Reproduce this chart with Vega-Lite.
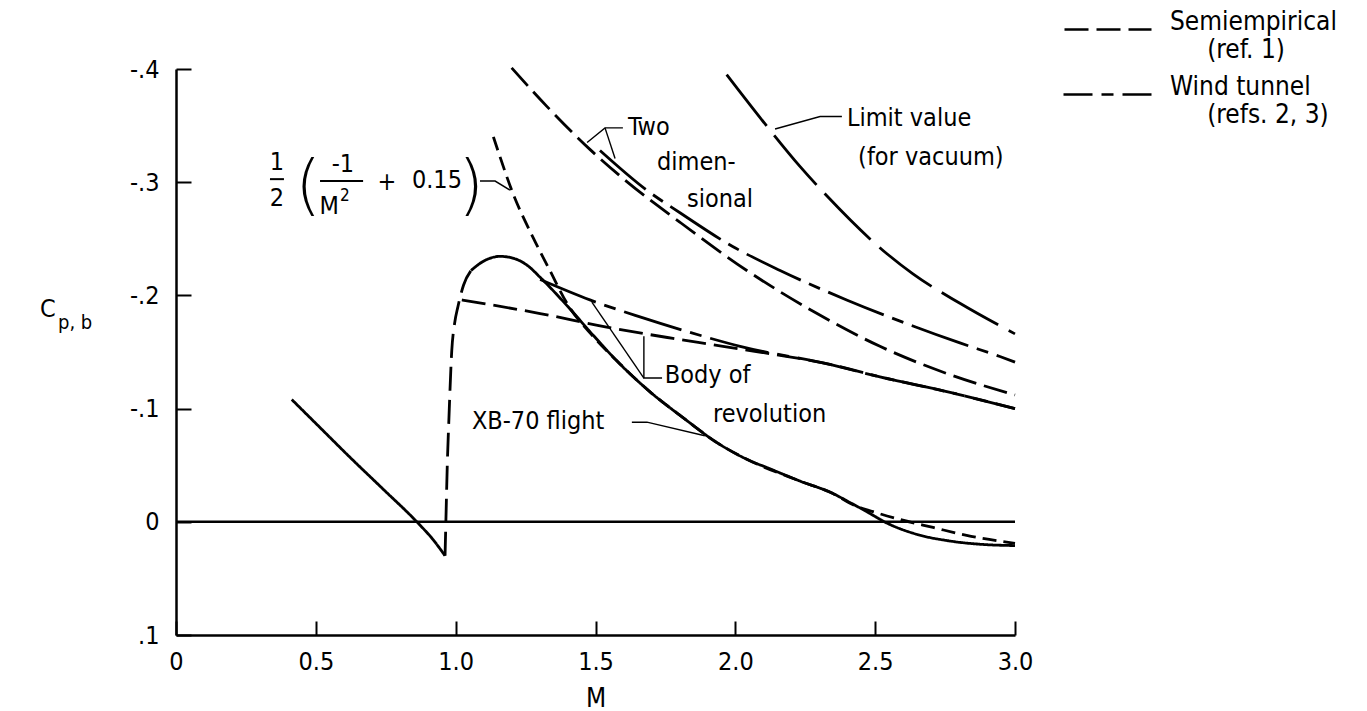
{
  "$schema": "https://vega.github.io/schema/vega-lite/v6.json",
  "width": 839,
  "height": 566,
  "autosize": {"type": "none"},
  "padding": {"left": 176, "top": 69, "right": 352, "bottom": 76},
  "background": "white",
  "config": {
    "view": {"stroke": null},
    "font": "DejaVu Sans Condensed, Liberation Sans Narrow, sans-serif",
    "text": {"font": "DejaVu Sans Condensed, Liberation Sans Narrow, sans-serif", "color": "black"}
  },
  "datasets": {
    "curves": [
      {"s": "flight1", "st": "flight", "M": 0.414, "Cp": -0.108},
      {"s": "flight1", "st": "flight", "M": 0.52, "Cp": -0.082},
      {"s": "flight1", "st": "flight", "M": 0.622, "Cp": -0.057},
      {"s": "flight1", "st": "flight", "M": 0.74, "Cp": -0.029},
      {"s": "flight1", "st": "flight", "M": 0.861, "Cp": 0.0},
      {"s": "flight1", "st": "flight", "M": 0.92, "Cp": 0.016},
      {"s": "flight1", "st": "flight", "M": 0.962, "Cp": 0.03},
      {"s": "fair", "st": "fairing", "M": 0.962, "Cp": 0.03},
      {"s": "fair", "st": "fairing", "M": 0.965, "Cp": 0.0},
      {"s": "fair", "st": "fairing", "M": 0.97, "Cp": -0.05},
      {"s": "fair", "st": "fairing", "M": 0.976, "Cp": -0.092},
      {"s": "fair", "st": "fairing", "M": 0.986, "Cp": -0.151},
      {"s": "fair", "st": "fairing", "M": 0.996, "Cp": -0.175},
      {"s": "fair", "st": "fairing", "M": 1.008, "Cp": -0.19},
      {"s": "fair", "st": "fairing", "M": 1.028, "Cp": -0.209},
      {"s": "fair", "st": "fairing", "M": 1.055, "Cp": -0.222},
      {"s": "flight2", "st": "flight", "M": 1.055, "Cp": -0.222},
      {"s": "flight2", "st": "flight", "M": 1.098, "Cp": -0.23},
      {"s": "flight2", "st": "flight", "M": 1.159, "Cp": -0.2345},
      {"s": "flight2", "st": "flight", "M": 1.216, "Cp": -0.232},
      {"s": "flight2", "st": "flight", "M": 1.259, "Cp": -0.226},
      {"s": "flight2", "st": "flight", "M": 1.302, "Cp": -0.216},
      {"s": "flight2", "st": "flight", "M": 1.398, "Cp": -0.191},
      {"s": "flight2", "st": "flight", "M": 1.491, "Cp": -0.165},
      {"s": "flight2", "st": "flight", "M": 1.577, "Cp": -0.142},
      {"s": "flight2", "st": "flight", "M": 1.694, "Cp": -0.115},
      {"s": "flight2", "st": "flight", "M": 1.813, "Cp": -0.092},
      {"s": "flight2", "st": "flight", "M": 1.934, "Cp": -0.07},
      {"s": "flight2", "st": "flight", "M": 2.052, "Cp": -0.054},
      {"s": "flight2", "st": "flight", "M": 2.112, "Cp": -0.048},
      {"s": "flight2", "st": "flight", "M": 2.231, "Cp": -0.036},
      {"s": "flight2", "st": "flight", "M": 2.349, "Cp": -0.025},
      {"s": "flight2", "st": "flight", "M": 2.41, "Cp": -0.017},
      {"s": "flight2", "st": "flight", "M": 2.47, "Cp": -0.009},
      {"s": "flight2", "st": "flight", "M": 2.541, "Cp": 0.001},
      {"s": "flight2", "st": "flight", "M": 2.648, "Cp": 0.011},
      {"s": "flight2", "st": "flight", "M": 2.768, "Cp": 0.017},
      {"s": "flight2", "st": "flight", "M": 2.885, "Cp": 0.02},
      {"s": "flight2", "st": "flight", "M": 3.0, "Cp": 0.021},
      {"s": "formula", "st": "formula", "M": 1.135, "Cp": -0.34},
      {"s": "formula", "st": "formula", "M": 1.151, "Cp": -0.328},
      {"s": "formula", "st": "formula", "M": 1.205, "Cp": -0.29},
      {"s": "formula", "st": "formula", "M": 1.277, "Cp": -0.251},
      {"s": "formula", "st": "formula", "M": 1.337, "Cp": -0.222},
      {"s": "formula", "st": "formula", "M": 1.398, "Cp": -0.193},
      {"s": "formula", "st": "formula", "M": 1.491, "Cp": -0.164},
      {"s": "formula", "st": "formula", "M": 1.577, "Cp": -0.142},
      {"s": "formula", "st": "formula", "M": 1.694, "Cp": -0.115},
      {"s": "formula", "st": "formula", "M": 1.813, "Cp": -0.092},
      {"s": "formula", "st": "formula", "M": 1.934, "Cp": -0.07},
      {"s": "formula", "st": "formula", "M": 2.052, "Cp": -0.054},
      {"s": "formula", "st": "formula", "M": 2.231, "Cp": -0.036},
      {"s": "formula", "st": "formula", "M": 2.349, "Cp": -0.025},
      {"s": "formula", "st": "formula", "M": 2.421, "Cp": -0.015},
      {"s": "formula", "st": "formula", "M": 2.492, "Cp": -0.009},
      {"s": "formula", "st": "formula", "M": 2.589, "Cp": -0.002},
      {"s": "formula", "st": "formula", "M": 2.707, "Cp": 0.005},
      {"s": "formula", "st": "formula", "M": 2.827, "Cp": 0.012},
      {"s": "formula", "st": "formula", "M": 3.0, "Cp": 0.019},
      {"s": "semi2d", "st": "semi", "M": 1.2, "Cp": -0.401},
      {"s": "semi2d", "st": "semi", "M": 1.326, "Cp": -0.367},
      {"s": "semi2d", "st": "semi", "M": 1.48, "Cp": -0.329},
      {"s": "semi2d", "st": "semi", "M": 1.6, "Cp": -0.303},
      {"s": "semi2d", "st": "semi", "M": 1.8, "Cp": -0.265},
      {"s": "semi2d", "st": "semi", "M": 2.041, "Cp": -0.222},
      {"s": "semi2d", "st": "semi", "M": 2.278, "Cp": -0.186},
      {"s": "semi2d", "st": "semi", "M": 2.517, "Cp": -0.155},
      {"s": "semi2d", "st": "semi", "M": 2.756, "Cp": -0.131},
      {"s": "semi2d", "st": "semi", "M": 3.0, "Cp": -0.112},
      {"s": "wt2d", "st": "wt", "M": 1.516, "Cp": -0.328},
      {"s": "wt2d", "st": "wt", "M": 1.683, "Cp": -0.293},
      {"s": "wt2d", "st": "wt", "M": 1.802, "Cp": -0.273},
      {"s": "wt2d", "st": "wt", "M": 1.992, "Cp": -0.243},
      {"s": "wt2d", "st": "wt", "M": 2.16, "Cp": -0.222},
      {"s": "wt2d", "st": "wt", "M": 2.398, "Cp": -0.196},
      {"s": "wt2d", "st": "wt", "M": 2.635, "Cp": -0.173},
      {"s": "wt2d", "st": "wt", "M": 2.803, "Cp": -0.158},
      {"s": "wt2d", "st": "wt", "M": 2.946, "Cp": -0.146},
      {"s": "wt2d", "st": "wt", "M": 3.0, "Cp": -0.141},
      {"s": "limit", "st": "limit", "M": 1.969, "Cp": -0.395},
      {"s": "limit", "st": "limit", "M": 2.124, "Cp": -0.346},
      {"s": "limit", "st": "limit", "M": 2.231, "Cp": -0.314},
      {"s": "limit", "st": "limit", "M": 2.327, "Cp": -0.288},
      {"s": "limit", "st": "limit", "M": 2.541, "Cp": -0.237},
      {"s": "limit", "st": "limit", "M": 2.635, "Cp": -0.219},
      {"s": "limit", "st": "limit", "M": 2.803, "Cp": -0.193},
      {"s": "limit", "st": "limit", "M": 3.0, "Cp": -0.166},
      {"s": "semiBoR", "st": "semi", "M": 1.022, "Cp": -0.196},
      {"s": "semiBoR", "st": "semi", "M": 1.302, "Cp": -0.184},
      {"s": "semiBoR", "st": "semi", "M": 1.54, "Cp": -0.172},
      {"s": "semiBoR", "st": "semi", "M": 1.777, "Cp": -0.162},
      {"s": "semiBoR", "st": "semi", "M": 1.956, "Cp": -0.155},
      {"s": "semiBoR", "st": "semi", "M": 2.374, "Cp": -0.137},
      {"s": "semiBoR", "st": "semi", "M": 2.517, "Cp": -0.128},
      {"s": "semiBoR", "st": "semi", "M": 2.756, "Cp": -0.115},
      {"s": "semiBoR", "st": "semi", "M": 3.0, "Cp": -0.1},
      {"s": "wtBoR", "st": "wt", "M": 1.302, "Cp": -0.214},
      {"s": "wtBoR", "st": "wt", "M": 1.48, "Cp": -0.196},
      {"s": "wtBoR", "st": "wt", "M": 1.659, "Cp": -0.181},
      {"s": "wtBoR", "st": "wt", "M": 1.898, "Cp": -0.163},
      {"s": "wtBoR", "st": "wt", "M": 2.017, "Cp": -0.155},
      {"s": "wtBoR", "st": "wt", "M": 2.338, "Cp": -0.139},
      {"s": "wtBoR", "st": "wt", "M": 2.517, "Cp": -0.128},
      {"s": "wtBoR", "st": "wt", "M": 2.756, "Cp": -0.115},
      {"s": "wtBoR", "st": "wt", "M": 3.0, "Cp": -0.1}
    ],
    "leaders": [
      {"g": "two_a", "i": 0, "M": 1.598, "Cp": -0.348},
      {"g": "two_a", "i": 1, "M": 1.534, "Cp": -0.348},
      {"g": "two_a", "i": 2, "M": 1.47, "Cp": -0.335},
      {"g": "two_b", "i": 0, "M": 1.534, "Cp": -0.348},
      {"g": "two_b", "i": 1, "M": 1.57, "Cp": -0.321},
      {"g": "limit", "i": 0, "M": 2.381, "Cp": -0.358},
      {"g": "limit", "i": 1, "M": 2.303, "Cp": -0.358},
      {"g": "limit", "i": 2, "M": 2.142, "Cp": -0.347},
      {"g": "body_a", "i": 0, "M": 1.738, "Cp": -0.127},
      {"g": "body_a", "i": 1, "M": 1.673, "Cp": -0.127},
      {"g": "body_a", "i": 2, "M": 1.673, "Cp": -0.164},
      {"g": "body_b", "i": 0, "M": 1.673, "Cp": -0.127},
      {"g": "body_b", "i": 1, "M": 1.487, "Cp": -0.194},
      {"g": "xb", "i": 0, "M": 1.63, "Cp": -0.088},
      {"g": "xb", "i": 1, "M": 1.684, "Cp": -0.088},
      {"g": "xb", "i": 2, "M": 1.891, "Cp": -0.076},
      {"g": "form", "i": 0, "M": 1.087, "Cp": -0.301},
      {"g": "form", "i": 1, "M": 1.141, "Cp": -0.301},
      {"g": "form", "i": 2, "M": 1.194, "Cp": -0.293}
    ],
    "notes": [
      {"t": "Two", "M": 1.616, "Cp": -0.349},
      {"t": "dimen-", "M": 1.72, "Cp": -0.318},
      {"t": "sional", "M": 1.827, "Cp": -0.285},
      {"t": "Limit value", "M": 2.399, "Cp": -0.357},
      {"t": "(for vacuum)", "M": 2.439, "Cp": -0.322},
      {"t": "Body of", "M": 1.748, "Cp": -0.13},
      {"t": "revolution", "M": 1.92, "Cp": -0.095},
      {"t": "XB-70 flight", "M": 1.058, "Cp": -0.089},
      {"t": "C", "M": -0.486, "Cp": -0.188}
    ],
    "subs": [
      {"t": "p, b", "M": -0.422, "Cp": -0.176}
    ],
    "formula": [
      {"t": "1", "M": 0.361, "Cp": -0.318},
      {"t": "2", "M": 0.361, "Cp": -0.286},
      {"t": "-1", "M": 0.597, "Cp": -0.316},
      {"t": "M", "M": 0.548, "Cp": -0.279},
      {"t": "+", "M": 0.754, "Cp": -0.3},
      {"t": "0.15", "M": 0.933, "Cp": -0.302}
    ],
    "sup": [
      {"t": "2", "M": 0.604, "Cp": -0.288}
    ],
    "parens": [
      {"t": "(", "M": 0.472, "Cp": -0.296},
      {"t": ")", "M": 1.055, "Cp": -0.296}
    ],
    "bars": [
      {"M": 0.336, "M2": 0.386, "Cp": -0.3027},
      {"M": 0.515, "M2": 0.669, "Cp": -0.301}
    ],
    "zero": [
      {"M": 0, "M2": 3, "Cp": 0}
    ]
  },
  "encoding": {
    "x": {
      "field": "M", "type": "quantitative",
      "scale": {"domain": [0, 3], "nice": false, "zero": false},
      "axis": {
        "title": "M", "values": [0, 0.5, 1, 1.5, 2, 2.5, 3],
        "labelExpr": "datum.value == 0 ? '0' : format(datum.value, '.1f')",
        "grid": false, "tickSize": -14, "labelPadding": 28,
        "domainColor": "black", "domainWidth": 2.5,
        "tickColor": "black", "tickWidth": 2,
        "labelFontSize": 25, "labelColor": "black", "labelFlush": false, "labelOverlap": false, "labelBound": false,
        "labelFont": "DejaVu Sans Condensed, Liberation Sans Narrow, sans-serif",
        "titleFont": "DejaVu Sans Condensed, Liberation Sans Narrow, sans-serif",
        "titleFontSize": 26, "titleFontWeight": "normal", "titleColor": "black", "titlePadding": 11
      }
    },
    "y": {
      "field": "Cp", "type": "quantitative",
      "scale": {"domain": [-0.4, 0.1], "reverse": true, "nice": false, "zero": false},
      "axis": {
        "title": null, "values": [-0.4, -0.3, -0.2, -0.1, 0, 0.1],
        "labelExpr": "datum.value == 0 ? '0' : (datum.value < 0 ? '-' : '') + '.' + round(abs(datum.value) * 10)",
        "grid": false, "tickSize": -15, "labelPadding": 32,
        "domainColor": "black", "domainWidth": 2.5,
        "tickColor": "black", "tickWidth": 2,
        "labelFontSize": 25, "labelColor": "black", "labelOverlap": false, "labelBound": false, "labelFlush": false,
        "labelFont": "DejaVu Sans Condensed, Liberation Sans Narrow, sans-serif"
      }
    }
  },
  "layer": [
    {
      "data": {"name": "zero"},
      "mark": {"type": "rule", "color": "black", "strokeWidth": 2.5},
      "encoding": {"x2": {"field": "M2"}}
    },
    {
      "data": {"name": "curves"},
      "mark": {"type": "line", "color": "black", "strokeWidth": 2.8, "interpolate": "monotone"},
      "encoding": {
        "detail": {"field": "s", "type": "nominal"},
        "strokeDash": {
          "field": "st", "type": "nominal",
          "scale": {
            "domain": ["semi", "wt", "flight", "fairing", "formula", "limit"],
            "range": [[24, 8], [60, 9, 12, 9], [1, 0], [24, 9], [14, 7], [65, 12]]
          },
          "legend": {
            "orient": "none", "legendX": 908, "legendY": -63, "padding": 0,
            "values": ["semi", "wt"], "title": null,
            "labelExpr": "datum.value == 'semi' ? ['Semiempirical', '\u200b\u00a0\u00a0\u00a0\u00a0\u00a0(ref. 1)'] : ['Wind tunnel', '\u200b\u00a0\u00a0\u00a0\u00a0\u00a0(refs. 2, 3)']",
            "labelFontSize": 26, "labelColor": "black", "labelLimit": 400,
            "labelFont": "DejaVu Sans Condensed, Liberation Sans Narrow, sans-serif",
            "labelBaseline": "alphabetic", "labelOffset": 39,
            "symbolType": "M-2,0H2", "symbolSize": 1936, "symbolStrokeWidth": 2.6,
            "symbolStrokeColor": "black", "symbolFillColor": "transparent", "symbolDashOffset": 31, "rowPadding": 8
          }
        }
      }
    },
    {
      "data": {"name": "leaders"},
      "mark": {"type": "line", "color": "black", "strokeWidth": 1.4},
      "encoding": {
        "detail": {"field": "g", "type": "nominal"},
        "order": {"field": "i", "type": "quantitative"}
      }
    },
    {
      "data": {"name": "bars"},
      "mark": {"type": "rule", "color": "black", "strokeWidth": 2},
      "encoding": {"x2": {"field": "M2"}}
    },
    {
      "data": {"name": "notes"},
      "mark": {"type": "text", "align": "left", "baseline": "middle", "fontSize": 25},
      "encoding": {"text": {"field": "t"}}
    },
    {
      "data": {"name": "subs"},
      "mark": {"type": "text", "align": "left", "baseline": "middle", "fontSize": 20},
      "encoding": {"text": {"field": "t"}}
    },
    {
      "data": {"name": "formula"},
      "mark": {"type": "text", "align": "center", "baseline": "middle", "fontSize": 25},
      "encoding": {"text": {"field": "t"}}
    },
    {
      "data": {"name": "sup"},
      "mark": {"type": "text", "align": "center", "baseline": "middle", "fontSize": 17},
      "encoding": {"text": {"field": "t"}}
    },
    {
      "data": {"name": "parens"},
      "mark": {"type": "text", "align": "center", "baseline": "middle", "fontSize": 66, "font": "DejaVu Sans", "fontWeight": 200},
      "encoding": {"text": {"field": "t"}}
    }
  ]
}
